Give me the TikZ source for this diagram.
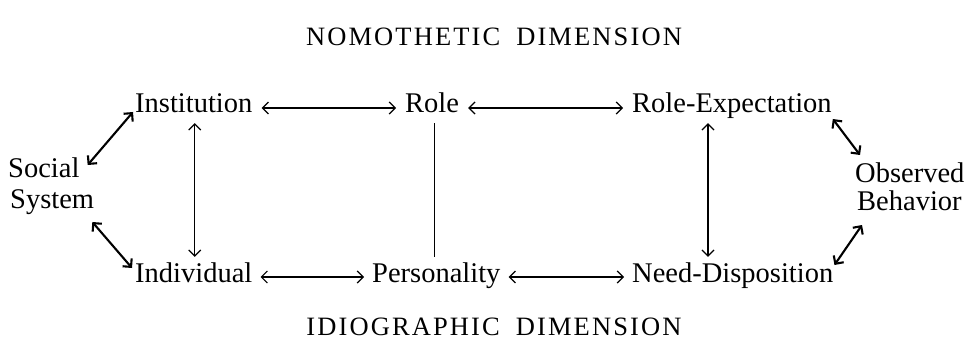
\documentclass[tikz,border=0pt]{standalone}
\usepackage{fontspec}
\setmainfont{Liberation Serif}
\usetikzlibrary{arrows.meta}
\begin{document}
\begin{tikzpicture}[x=1pt,y=-1pt]
\tikzset{
  lbl/.style={font=\fontsize{28.5}{30}\selectfont, inner sep=0pt, text height=17pt, text depth=7pt, anchor=base west},
  ttl/.style={font=\fontsize{26.5}{28}\selectfont\addfontfeature{LetterSpace=8}, inner sep=0pt, anchor=base},
  biarrow/.style={{Straight Barb[length=6pt,width=12pt]}-{Straight Barb[length=6pt,width=12pt]}, line width=1.2pt},
  diag/.style={biarrow, line width=2.1pt},
  plain/.style={line width=1.2pt},
  gap/.style={shorten <=#1, shorten >=#1},
}
\useasboundingbox (0,0) rectangle (973,363);
\fill[white] (0,0) rectangle (973,363);

% titles
\node[ttl] (nomo) at (494,46) {NOMOTHETIC\hspace{16pt}DIMENSION};
\node[ttl] (idio) at (494,335) {IDIOGRAPHIC\hspace{16pt}DIMENSION};

% nodes
\node[lbl] (inst)  at (135,113) {Institution};
\node[lbl] (role)  at (405,113) {Role};
\node[lbl] (rexp)  at (632,113) {Role-Expectation};
\node[lbl] (indiv) at (135,282) {Individual};
\node[lbl] (pers)  at (372,282) {Personality};
\node[lbl] (need)  at (632,282) {Need-Disposition};
\node[lbl] (soc)   at (8,178)   {Social};
\node[lbl] (sys)   at (10,208)  {System};
\node[lbl] (obs)   at (855,183) {Observed};
\node[lbl] (beh)   at (857,211) {Behavior};

% horizontal arrows
\draw[biarrow, gap=9pt] (inst) -- (role);
\draw[biarrow, gap=9pt] (role) -- (rexp);
\draw[biarrow, gap=8pt] (indiv) -- (pers);
\draw[biarrow, gap=8pt] (pers) -- (need);

% vertical connectors
\draw[biarrow, shorten <=3pt, shorten >=8pt] ([xshift=1pt]inst.south) -- ([xshift=1pt]inst.south |- indiv.north);
\draw[plain, shorten <=3pt, shorten >=8pt] ([xshift=2pt]role.south) -- ([xshift=2pt]role.south |- pers.north);
\draw[biarrow, shorten <=3pt, shorten >=8pt] ([xshift=76pt]rexp.south west) -- ([xshift=76pt]rexp.south west |- need.north);

% diagonal connectors
\draw[diag] ([shift={(8,-8)}]soc.east) -- ([shift={(-2,-1)}]inst.base west);
\draw[diag] ([shift={(-2,14)}]sys.base east) -- ([shift={(-3,-14)}]indiv.base west);
\draw[diag] ([shift={(1,6)}]rexp.base east) -- ([shift={(5,-28)}]obs.base west);
\draw[diag] ([shift={(1,-17)}]need.base east) -- ([shift={(5,14)}]beh.base west);
\end{tikzpicture}
\end{document}
